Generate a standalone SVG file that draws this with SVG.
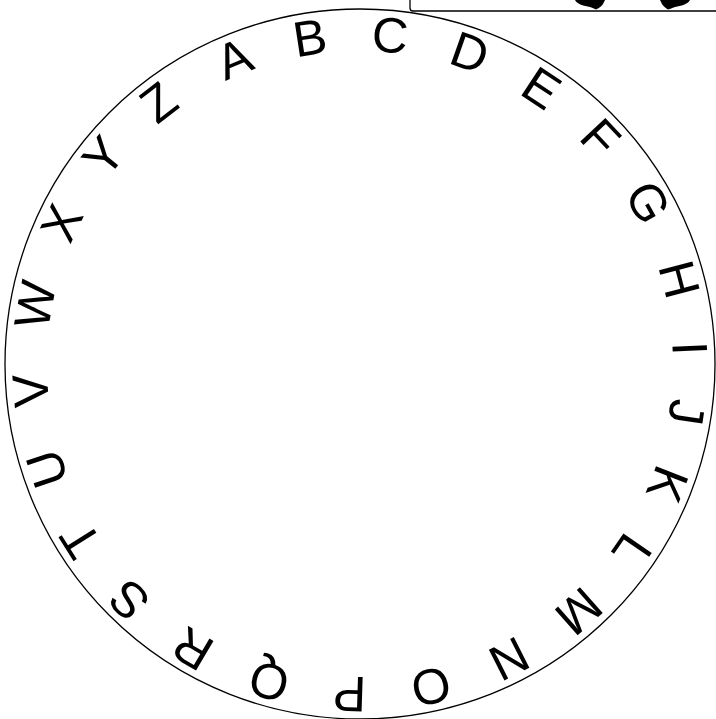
<svg xmlns="http://www.w3.org/2000/svg" width="716" height="719" viewBox="0 0 716 719">
<style>
.ring{fill:none;stroke:#000;stroke-width:1.3}
.box{fill:#fff;stroke:#000;stroke-width:1.3}
.l{font-family:"Liberation Sans",Arial,sans-serif;font-size:50px;fill:#000;text-anchor:middle}
</style>
<rect width="716" height="719" fill="#fff"/>
<g id="card">
<rect class="box" x="410" y="-20" width="330" height="31" rx="3"/>
<path d="M575,0 C577,4 584,6 590,7 C593,8 595,9 596,9.5 C600,8 603,5 604,2 L605,0 Z" fill="#000"/>
<path d="M690,0 C688,4 681,6 675,7 C672,8 670,9 668,9.5 C665,8 662,5 661,2 L660,0 Z" fill="#000"/>
</g>
<g id="dial">
<circle class="ring" cx="360" cy="364" r="355"/>
</g>
<g id="letters">
<text class="l" x="360" y="51" transform="rotate(-22.4 360 364)">A</text>
<text class="l" x="360" y="51" transform="rotate(-8.72 360 364)">B</text>
<text class="l" x="360" y="51" transform="rotate(5.22 360 364)">C</text>
<text class="l" x="360" y="51" transform="rotate(19.41 360 364)">D</text>
<text class="l" x="360" y="51" transform="rotate(33.34 360 364)">E</text>
<text class="l" x="360" y="51" transform="rotate(46.77 360 364)">F</text>
<text class="l" x="360" y="51" transform="rotate(60.70 360 364)">G</text>
<text class="l" x="360" y="51" transform="rotate(75.15 360 364)">H</text>
<text class="l" x="360" y="51" transform="rotate(87.30 360 364)">I</text>
<text class="l" x="360" y="51" transform="rotate(98.44 360 364)">J</text>
<text class="l" x="360" y="51" transform="rotate(111.36 360 364)">K</text>
<text class="l" x="360" y="51" transform="rotate(124.54 360 364)">L</text>
<text class="l" x="360" y="51" transform="rotate(138.47 360 364)">M</text>
<text class="l" x="360" y="51" transform="rotate(153.17 360 364)">N</text>
<text class="l" x="360" y="51" transform="rotate(167.61 360 364)">O</text>
<text class="l" x="360" y="51" transform="rotate(181.80 360 364)">P</text>
<text class="l" x="360" y="51" transform="rotate(196.00 360 364)">Q</text>
<text class="l" x="360" y="51" transform="rotate(210.44 360 364)">R</text>
<text class="l" x="360" y="51" transform="rotate(224.38 360 364)">S</text>
<text class="l" x="360" y="51" transform="rotate(237.80 360 364)">T</text>
<text class="l" x="360" y="51" transform="rotate(251.48 360 364)">U</text>
<text class="l" x="360" y="51" transform="rotate(265.42 360 364)">V</text>
<text class="l" x="360" y="51" transform="rotate(280.37 360 364)">W</text>
<text class="l" x="360" y="51" transform="rotate(295.32 360 364)">X</text>
<text class="l" x="360" y="51" transform="rotate(309.00 360 364)">Y</text>
<text class="l" x="360" y="51" transform="rotate(322.43 360 364)">Z</text>
</g>
</svg>
